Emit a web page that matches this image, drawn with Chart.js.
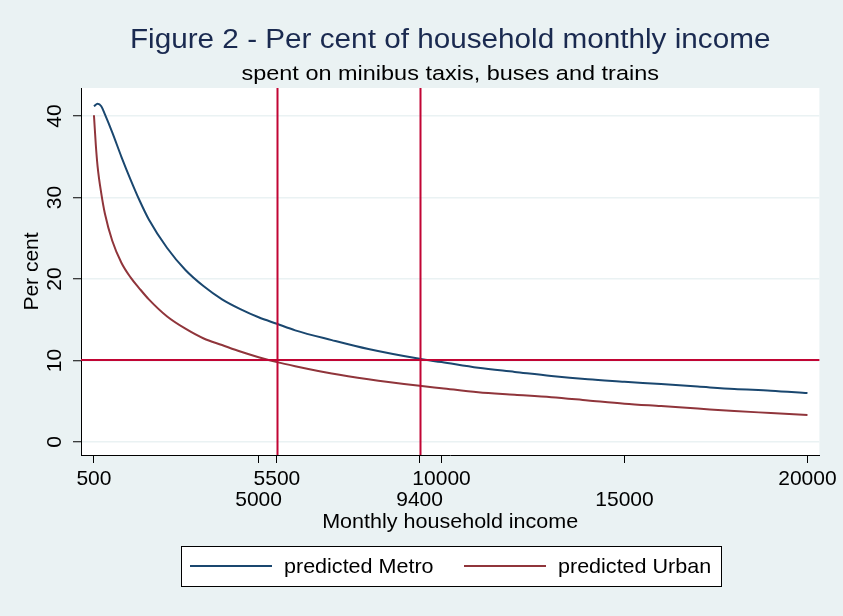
<!DOCTYPE html>
<html>
<head>
<meta charset="utf-8">
<script src="https://cdn.jsdelivr.net/npm/chart.js@4"></script>
<style>
  html, body { margin: 0; padding: 0; background: #eaf2f3; overflow: hidden; }
  #c { display: block; }
</style>
</head>
<body>
<canvas id="c" width="843" height="616"></canvas>
<script>
// ---- Data ----
const incomeMetro = [500, 600, 700, 800, 1000, 1250, 1500, 1750, 2000, 2500, 3000, 3500, 4000, 4500, 5000, 5500, 6000, 7000, 8000, 9400, 10000, 11000, 12000, 13000, 14000, 15000, 16000, 17000, 18000, 19000, 20000];
const predictedMetro = [41.2, 41.5, 41.2, 40.2, 38.0, 35.0, 32.2, 29.6, 27.3, 23.8, 21.1, 19.1, 17.5, 16.3, 15.3, 14.5, 13.7, 12.5, 11.4, 10.2, 9.8, 9.1, 8.6, 8.1, 7.7, 7.4, 7.1, 6.8, 6.5, 6.3, 6.0];
const incomeUrban = [500, 550, 600, 700, 800, 1000, 1250, 1500, 1750, 2000, 2500, 3000, 3500, 4000, 4500, 5000, 5500, 6000, 7000, 8000, 9400, 10000, 11000, 12000, 13000, 14000, 15000, 16000, 17000, 18000, 19000, 20000];
const predictedUrban = [40.1, 36.5, 33.8, 30.5, 28.0, 24.7, 22.0, 20.2, 18.8, 17.5, 15.4, 13.9, 12.7, 11.9, 11.1, 10.4, 9.8, 9.3, 8.4, 7.7, 6.9, 6.6, 6.1, 5.8, 5.5, 5.1, 4.7, 4.4, 4.1, 3.8, 3.55, 3.3];
const xTickValues = [500, 5000, 5500, 9400, 10000, 15000, 20000];
const xTickLabels = ['500', '5000', '5500', '9400', '10000', '15000', '20000'];
const yTickValues = [0, 10, 20, 30, 40];
const yTickLabels = ['0', '10', '20', '30', '40'];
const refIncomeLines = [5500, 9400];
const refPercentLines = [10];
const seriesNames = ['predicted Metro', 'predicted Urban'];
const titleText = 'Figure 2 - Per cent of household monthly income';
const subtitleText = 'spent on minibus taxis, buses and trains';
const xTitle = 'Monthly household income';
const yTitle = 'Per cent';

// ---- Style ----
const METRO = '#1a476f';
const URBAN = '#90353b';
const REF = '#c10534';
const FONT = '"Liberation Sans", Arial, sans-serif';

const toPts = (xs, ys) => xs.map((x, i) => ({ x: x, y: ys[i] }));

// draw text horizontally stretched around its anchor
function stretchText(ctx, text, x, y, sx) {
  ctx.save();
  ctx.translate(x, y);
  ctx.scale(sx, 1);
  ctx.fillText(text, 0, 0);
  ctx.restore();
}

const decor = {
  id: 'decor',
  afterDatasetsDraw(chart) {
    const ctx = chart.ctx;
    const xs = chart.scales.x, ys = chart.scales.y;
    const a = chart.chartArea;
    ctx.save();
    ctx.strokeStyle = REF;
    ctx.lineWidth = 2;
    refIncomeLines.forEach(v => {
      const px = Math.round(xs.getPixelForValue(v)) + 0.5;
      ctx.beginPath(); ctx.moveTo(px, a.top); ctx.lineTo(px, a.bottom); ctx.stroke();
    });
    refPercentLines.forEach(v => {
      const py = Math.round(ys.getPixelForValue(v));
      ctx.beginPath(); ctx.moveTo(a.left, py); ctx.lineTo(a.right, py); ctx.stroke();
    });
    ctx.restore();
  },
  afterDraw(chart) {
    const ctx = chart.ctx;
    const ys = chart.scales.y;
    const a = chart.chartArea;
    const cx = (a.left + a.right) / 2;
    ctx.save();
    // titles
    ctx.textAlign = 'center';
    ctx.textBaseline = 'alphabetic';
    ctx.fillStyle = '#1a2a50';
    ctx.font = '27px ' + FONT;
    stretchText(ctx, titleText, cx, 48, 1.1);
    ctx.fillStyle = '#000';
    ctx.font = '20.5px ' + FONT;
    stretchText(ctx, subtitleText, cx, 80, 1.145);
    // x title
    ctx.font = '21px ' + FONT;
    stretchText(ctx, xTitle, cx, 528, 1.025);
    // y tick labels (rotated)
    yTickValues.forEach((v, i) => {
      const py = ys.getPixelForValue(v);
      ctx.save();
      ctx.translate(55, py);
      ctx.rotate(-Math.PI / 2);
      ctx.textAlign = 'center';
      ctx.textBaseline = 'middle';
      ctx.fillText(yTickLabels[i], 0, 0);
      ctx.restore();
    });
    // y title
    ctx.save();
    ctx.translate(32, (a.top + a.bottom) / 2);
    ctx.rotate(-Math.PI / 2);
    ctx.textAlign = 'center';
    ctx.textBaseline = 'middle';
    ctx.fillText(yTitle, 0, 0);
    ctx.restore();
    // legend
    ctx.fillStyle = '#fff';
    ctx.fillRect(181.5, 546.5, 540, 40);
    ctx.strokeStyle = '#000';
    ctx.lineWidth = 1;
    ctx.strokeRect(181.5, 546.5, 540, 40);
    const items = [
      { color: METRO, x0: 190, x1: 272, tx: 284 },
      { color: URBAN, x0: 464, x1: 546, tx: 558 }
    ];
    items.forEach((it, i) => {
      ctx.strokeStyle = it.color;
      ctx.lineWidth = 2;
      ctx.beginPath(); ctx.moveTo(it.x0, 566); ctx.lineTo(it.x1, 566); ctx.stroke();
      ctx.fillStyle = '#000';
      ctx.textAlign = 'left';
      ctx.textBaseline = 'middle';
      ctx.font = '21px ' + FONT;
      stretchText(ctx, seriesNames[i], it.tx, 567, 1.025);
    });
    ctx.restore();
  }
};

const plotBg = {
  id: 'plotBg',
  beforeDraw(chart) {
    const a = chart.chartArea;
    const ctx = chart.ctx;
    ctx.save();
    ctx.fillStyle = '#eaf2f3';
    ctx.fillRect(0, 0, chart.width, chart.height);
    ctx.fillStyle = '#ffffff';
    ctx.fillRect(a.left, a.top, a.right - a.left, a.bottom - a.top);
    ctx.restore();
  }
};

new Chart(document.getElementById('c'), {
  type: 'line',
  data: {
    datasets: [
      { label: seriesNames[0], data: toPts(incomeMetro, predictedMetro), borderColor: METRO, borderWidth: 2, pointRadius: 0, cubicInterpolationMode: 'monotone', fill: false },
      { label: seriesNames[1], data: toPts(incomeUrban, predictedUrban), borderColor: URBAN, borderWidth: 2, pointRadius: 0, cubicInterpolationMode: 'monotone', fill: false }
    ]
  },
  options: {
    responsive: false,
    animation: false,
    devicePixelRatio: 1,
    font: { family: FONT },
    layout: { padding: { top: 88, right: 21, bottom: 71, left: 0 } },
    plugins: { legend: { display: false }, title: { display: false }, tooltip: { enabled: false } },
    scales: {
      x: {
        type: 'linear',
        min: 146, max: 20326,
        afterBuildTicks: s => { s.ticks = xTickValues.map(v => ({ value: v })); },
        afterFit: s => { s.height = 90; },
        grid: { drawOnChartArea: false, drawTicks: true, tickLength: 8, tickColor: '#000', tickWidth: 1 },
        border: { display: true, color: '#000', width: 1 },
        ticks: {
          autoSkip: false, maxRotation: 0, minRotation: 0, padding: 6, color: '#000',
          font: { family: FONT, size: 21, lineHeight: 1.0 },
          callback: (v) => {
            const k = xTickValues.indexOf(v);
            const lab = xTickLabels[k];
            return k % 2 === 1 ? ['', lab] : lab;
          }
        }
      },
      y: {
        type: 'linear',
        min: -1.6, max: 43.44,
        afterBuildTicks: s => { s.ticks = yTickValues.map(v => ({ value: v })); },
        afterFit: s => { s.width = 81; },
        grid: { drawOnChartArea: true, color: '#eaf2f3', lineWidth: 1.5, drawTicks: true, tickLength: 8, tickColor: '#000', tickWidth: 1 },
        border: { display: true, color: '#000', width: 1 },
        ticks: { display: false }
      }
    }
  },
  plugins: [plotBg, decor]
});
</script>
</body>
</html>
